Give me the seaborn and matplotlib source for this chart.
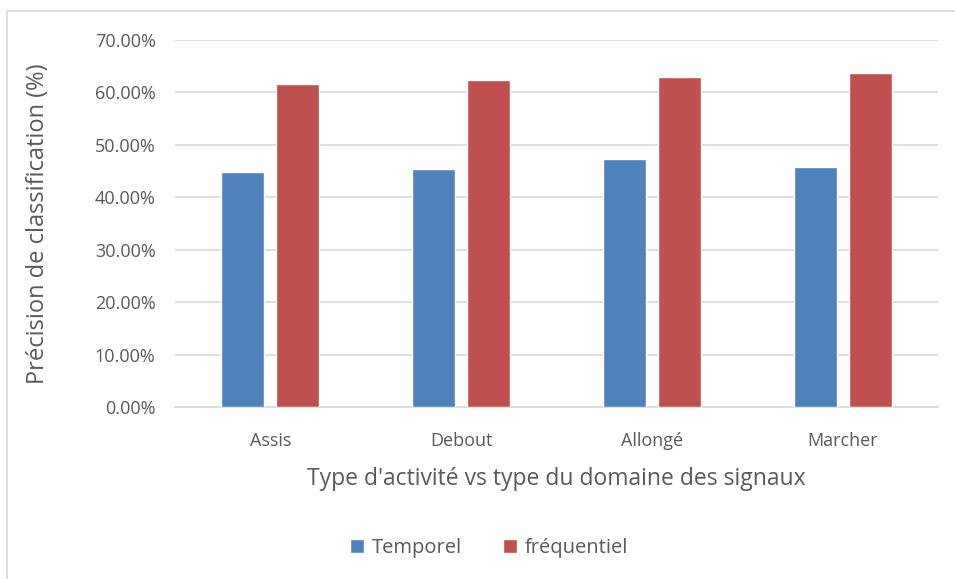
import matplotlib
matplotlib.use('Agg')
import matplotlib.pyplot as plt
from matplotlib.lines import Line2D
from matplotlib.ticker import FuncFormatter
import pandas as pd
import seaborn as sns

# Values
activities = ['Assis', 'Debout', 'Allongé', 'Marcher']
temporel = [44.9, 45.3, 47.3, 45.8]
frequentiel = [61.6, 62.3, 62.85, 63.7]

df = pd.DataFrame({'Activité': activities * 2,
                   'Précision': temporel + frequentiel,
                   'Domaine': ['Temporel'] * 4 + ['fréquentiel'] * 4})

sns.set_style('white')
plt.rcParams['font.family'] = ['Open Sans', 'DejaVu Sans']
text_col = '#595959'

fig = plt.figure(figsize=(9.55, 5.79), dpi=100)
ax = fig.add_axes([175 / 955, 1 - 407 / 579, (938 - 175) / 955, (407 - 40) / 579])

sns.barplot(data=df, x='Activité', y='Précision', hue='Domaine',
            palette=['#4F81BD', '#C0504D'], width=0.577, gap=0.22,
            saturation=1, ax=ax, zorder=3)

ax.set_ylim(0, 70)
ax.set_yticks(range(0, 71, 10))
ax.yaxis.set_major_formatter(FuncFormatter(lambda v, p: f'{v:.2f}%'))
ax.grid(axis='y', color='#D9D9D9', linewidth=1.2, zorder=0)
for s in ['top', 'right', 'left']:
    ax.spines[s].set_visible(False)
ax.spines['bottom'].set_color('#D9D9D9')
ax.spines['bottom'].set_linewidth(1.2)
ax.tick_params(axis='both', length=0, labelsize=13, colors=text_col)
ax.tick_params(axis='y', pad=14)
ax.tick_params(axis='x', pad=18)
ax.set_xlabel("Type d'activité vs type du domaine des signaux", fontsize=16.5,
              color=text_col, labelpad=12)
ax.set_ylabel('Précision de classification (%)', fontsize=17, color=text_col,
              labelpad=32)

ax.legend(loc='center', bbox_to_anchor=(489 / 955, 1 - 548 / 579),
          bbox_transform=fig.transFigure, ncol=2, frameon=False,
          fontsize=14.5, handlelength=0.7, handleheight=0.7,
          handletextpad=0.4, columnspacing=2.0, labelcolor=text_col)

# chart area border (top and left edges visible)
fig.add_artist(Line2D([7 / 955, 7 / 955], [0, 1 - 11 / 579],
                      transform=fig.transFigure, color='#D9D9D9', lw=1.2))
fig.add_artist(Line2D([7 / 955, 1], [1 - 11 / 579, 1 - 11 / 579],
                      transform=fig.transFigure, color='#D9D9D9', lw=1.2))

fig.savefig('out.png', dpi=100)
